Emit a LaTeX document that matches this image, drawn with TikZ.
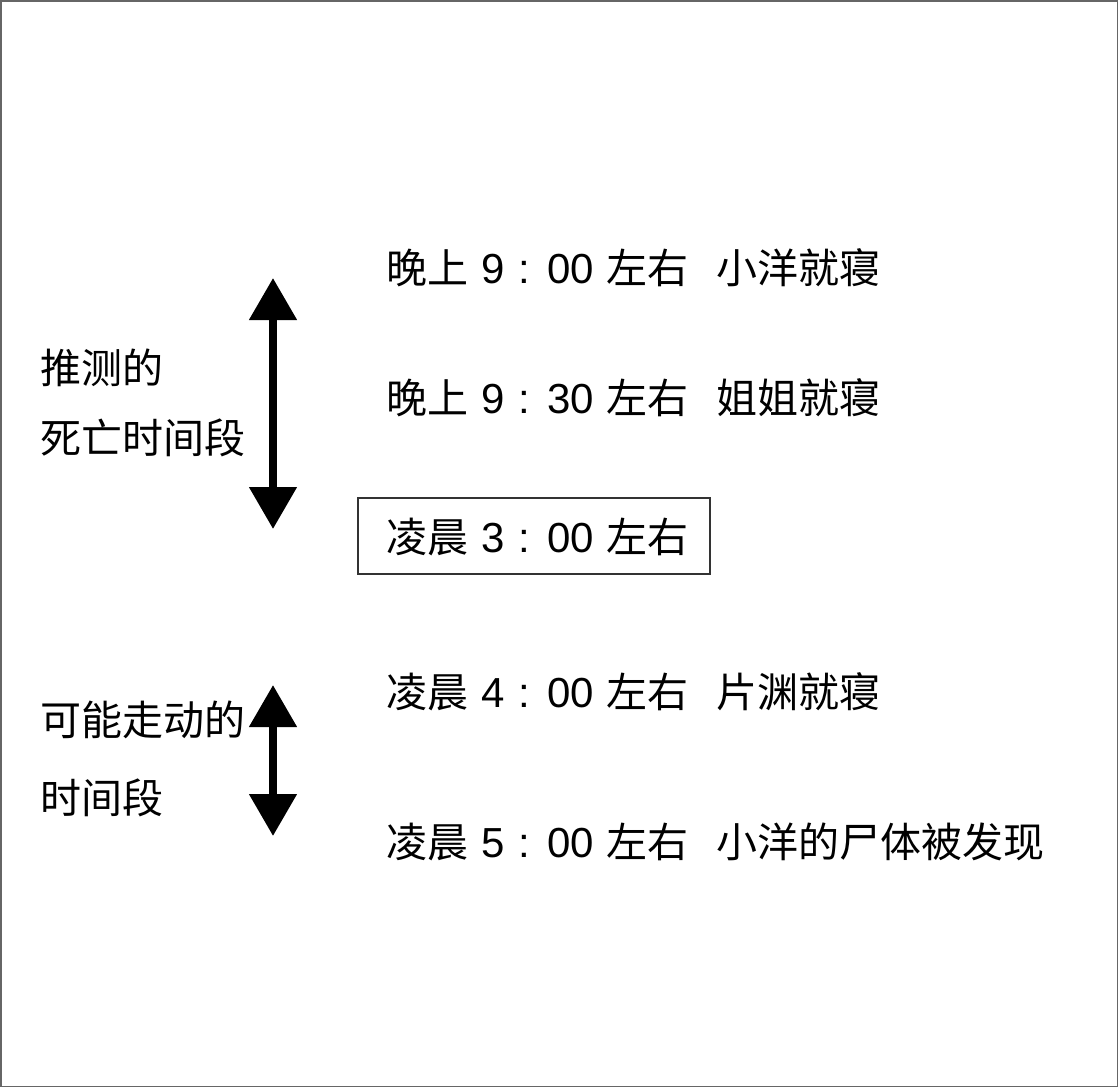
\documentclass[tikz,border=0pt]{standalone}
\usepackage{fontspec}
\setmainfont{Noto Sans CJK SC}
\newfontfamily\latdig{Liberation Sans}
\usetikzlibrary{arrows.meta}
\newcommand{\timeline}[4]{#1\hspace{13pt}{\latdig\fontsize{42}{48}\selectfont #2\hspace{14pt}:\hspace{17pt}#3}\hspace{13pt}左右#4}
\begin{document}
\begin{tikzpicture}[x=1pt,y=-1pt,
  lbl/.style={anchor=west,inner sep=0pt,font=\fontsize{41}{48}\selectfont},
  dblarrow/.style={line width=8pt,{Triangle[width=46pt,length=42pt]}-{Triangle[width=46pt,length=42pt]}},
  framebox/.style={draw=black!80,line width=1.2pt}]
\draw[draw=black!60,line width=1.5pt,fill=white] (0.75,0.75) rectangle (1117.25,1086.25);
\useasboundingbox (0,0) rectangle (1118,1087);
% timeline texts
\node[lbl] (t1) at (386,268) {\timeline{晚上}{9}{00}{\hspace{28pt}小洋就寝}};
\node[lbl] (t2) at (386,398) {\timeline{晚上}{9}{30}{\hspace{28pt}姐姐就寝}};
\node[lbl] (t3) at (386,537) {\timeline{凌晨}{3}{00}{}};
\draw[framebox] (358,498) rectangle (710,574);
\node[lbl] (t4) at (386,692) {\timeline{凌晨}{4}{00}{\hspace{28pt}片渊就寝}};
\node[lbl] (t5) at (386,842) {\timeline{凌晨}{5}{00}{\hspace{28pt}小洋的尸体被发现}};
% left labels
\node[lbl] (l1) at (40,368) {推测的};
\node[lbl] (l2) at (40,438) {死亡时间段};
\node[lbl] (l3) at (40,720) {可能走动的};
\node[lbl] (l4) at (40,798) {时间段};
% arrows
\coordinate (a1t) at (273,278);
\coordinate (a1b) at (273,529);
\coordinate (a2t) at (273,685);
\coordinate (a2b) at (273,836);
\draw[dblarrow] (a1t) -- (a1b);
\draw[dblarrow] (a2t) -- (a2b);
\end{tikzpicture}
\end{document}
